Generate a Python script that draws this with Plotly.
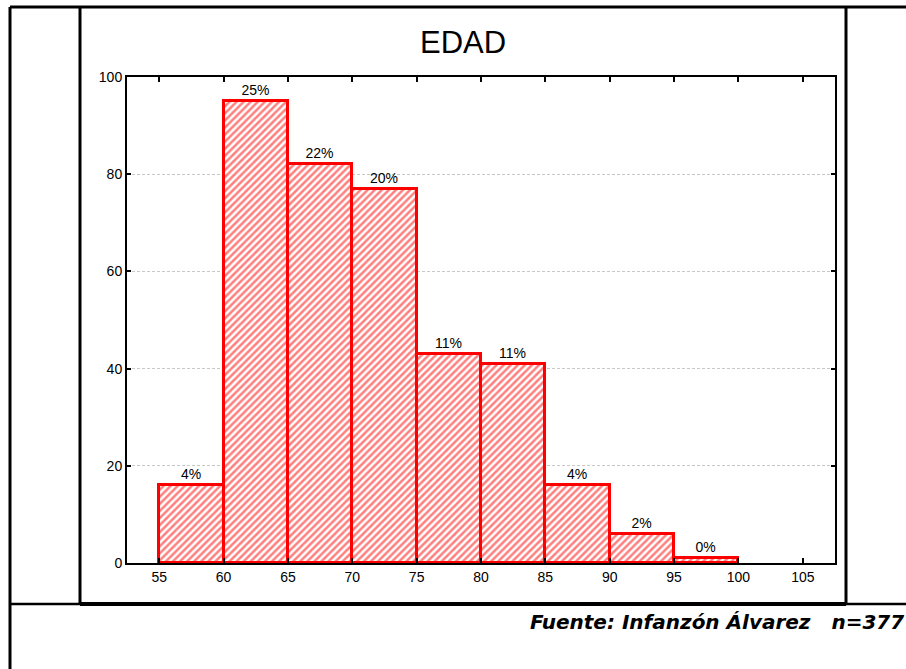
import plotly.graph_objects as go

# Data
bin_starts = [55, 60, 65, 70, 75, 80, 85, 90, 95]
bin_width = 5
counts = [16, 95, 82, 77, 43, 41, 16, 6, 1]
pct_labels = ["4%", "25%", "22%", "20%", "11%", "11%", "4%", "2%", "0%"]
x_ticks = [55, 60, 65, 70, 75, 80, 85, 90, 95, 100, 105]
y_ticks = [0, 20, 40, 60, 80, 100]
title_text = "EDAD"
source_text = "Fuente: Infanzón Álvarez   n=377"

W, H = 906, 669
L, R, T, B = 127, 835, 77, 563  # plot area in px


def px(x):
    return (x - L) / (R - L)


def py(y):
    return (B - y) / (B - T)


fig = go.Figure()
fig.add_trace(go.Bar(
    x=bin_starts,
    y=counts,
    width=[bin_width] * len(counts),
    offset=0,
    text=pct_labels,
    textposition="outside",
    textfont=dict(family="Liberation Sans, Arial", size=14, color="black"),
    cliponaxis=False,
    marker=dict(
        color="white",
        line=dict(color="#ff0000", width=3),
        pattern=dict(shape="/", fgcolor="#ff0000", bgcolor="white", size=5, solidity=0.5),
    ),
    showlegend=False,
))

shapes = []


def seg(x0, y0, x1, y1, w):
    shapes.append(dict(type="line", xref="paper", yref="paper",
                       x0=px(x0), y0=py(y0), x1=px(x1), y1=py(y1),
                       line=dict(color="black", width=w), layer="above"))


seg(10, 7, 10, 669, 3)        # outer left
seg(10, 7, 906, 7, 3)         # outer top
seg(80, 7, 80, 604, 3)        # inner left
seg(846, 7, 846, 604, 3)      # inner right
seg(10, 604, 80, 604, 2.5)    # bottom left piece
seg(80, 604, 846, 604, 4)     # inner bottom thick
seg(846, 604, 906, 604, 2.5)  # bottom right piece

fig.update_layout(
    width=W, height=H,
    margin=dict(l=L, r=W - R, t=T, b=H - B),
    paper_bgcolor="white",
    plot_bgcolor="white",
    font=dict(family="Liberation Sans, Arial", size=14, color="black"),
    bargap=0,
    shapes=shapes,
    annotations=[
        dict(text=title_text, xref="paper", yref="paper", x=px(463), y=py(42),
             xanchor="center", yanchor="middle", showarrow=False,
             font=dict(family="Liberation Sans, Arial", size=31, color="black")),
        dict(text="<b><i>" + source_text + "</i></b>", xref="paper", yref="paper",
             x=px(906), y=py(622), xanchor="right", yanchor="middle", showarrow=False,
             font=dict(family="DejaVu Sans", size=20, color="black")),
    ],
)

fig.update_xaxes(
    range=[52.5, 107.5],
    tickmode="array", tickvals=x_ticks,
    ticks="inside", ticklen=5, tickwidth=1.5, tickcolor="black",
    showline=True, linecolor="black", linewidth=2, mirror="ticks",
    showgrid=False, zeroline=False,
    tickfont=dict(size=14),
)
fig.update_yaxes(
    range=[0, 100],
    tickmode="array", tickvals=y_ticks,
    ticks="inside", ticklen=4, tickwidth=1.5, tickcolor="black",
    showline=True, linecolor="black", linewidth=2, mirror="ticks",
    showgrid=True, gridcolor="#c8c8c8", gridwidth=1, griddash="3px,2px",
    zeroline=False,
    tickfont=dict(size=14),
)

fig.write_html("out.html", config={"displayModeBar": False},
               post_script="document.body.style.margin='0';")
